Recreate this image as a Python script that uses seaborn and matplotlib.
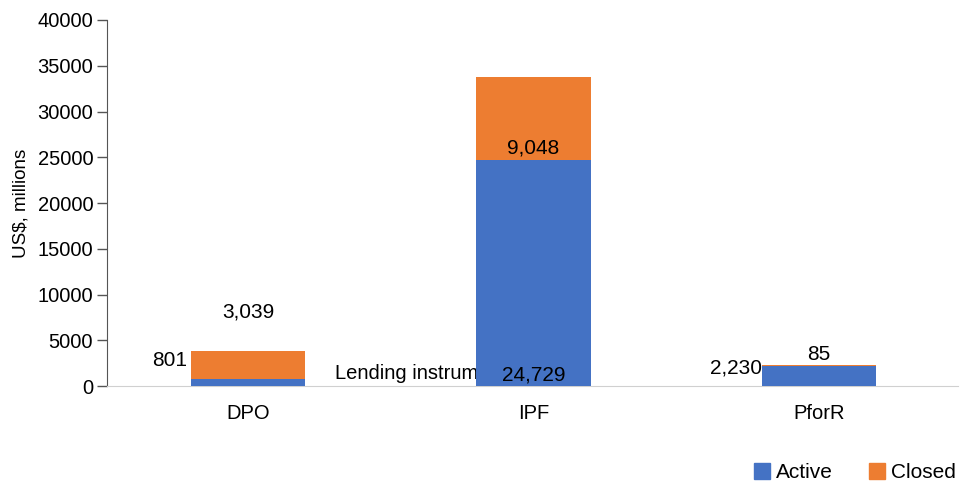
import pandas as pd
import numpy as np
import matplotlib.pyplot as plt
import seaborn as sns
from matplotlib.patches import Patch

# lending instruments and amounts (US$ millions)
instruments = ['DPO', 'IPF', 'PforR']
active = [801, 24729, 2230]
closed = [3039, 9048, 85]

blue = '#4472C4'
orange = '#ED7D31'

df = pd.DataFrame({'instrument': instruments, 'Active': active, 'Closed': closed})
df['total'] = df['Active'] + df['Closed']

sns.set_style('white')
plt.rcParams['font.family'] = ['Liberation Sans', 'DejaVu Sans']
plt.rcParams['text.color'] = 'black'
plt.rcParams['axes.labelcolor'] = 'black'
plt.rcParams['xtick.color'] = 'black'
plt.rcParams['ytick.color'] = 'black'

fig = plt.figure(figsize = (9.6, 4.83), dpi = 100)
ax = fig.add_axes([0.1115, 0.2008, 0.886, 0.7578])

# stacked bars: totals drawn first in orange, active on top in blue
sns.barplot(data = df, x = 'instrument', y = 'total', color = orange, width = 0.4,
            saturation = 1, ax = ax, zorder = 2, linewidth = 0)
sns.barplot(data = df, x = 'instrument', y = 'Active', color = blue, width = 0.4,
            saturation = 1, ax = ax, zorder = 3, linewidth = 0)

ax.set_ylim(0, 40000)
ax.set_xlim(-0.495, 2.487)
ax.set_yticks(np.arange(0, 40001, 5000))
ax.set_ylabel('US$, millions', fontsize = 13.5, labelpad = 6)
ax.set_xlabel('')
ax.tick_params(axis = 'y', labelsize = 14.5, length = 7, width = 1, color = '#555555', left = True, pad = 3)
ax.tick_params(axis = 'x', labelsize = 14.5, length = 0, pad = 13)

for s in ['top', 'right']:
    ax.spines[s].set_visible(False)
ax.spines['left'].set_color('#555555')
ax.spines['bottom'].set_color('#d0d0d0')

# axis title sits inside the plot, partly hidden behind the IPF bar
ax.text(0.305, 1420, 'Lending instrument', fontsize = 14.5, va = 'center', ha = 'left', zorder = 1)

# data labels (placement offsets as in the original)
fmt = lambda v: f'{v:,}'
ax.text(-0.215, 2840, fmt(active[0]), fontsize = 15, ha = 'right', va = 'center', zorder = 4)
ax.text(0, 8090, fmt(closed[0]), fontsize = 15, ha = 'center', va = 'center', zorder = 4)
ax.text(1, 1200, fmt(active[1]), fontsize = 15, ha = 'center', va = 'center', zorder = 4)
ax.text(1, 26010, fmt(closed[1]), fontsize = 15, ha = 'center', va = 'center', zorder = 4)
ax.text(1.8, 1970, fmt(active[2]), fontsize = 15, ha = 'right', va = 'center', zorder = 4)
ax.text(2, 3390, fmt(closed[2]), fontsize = 15, ha = 'center', va = 'center', zorder = 4)

handles = [Patch(color = blue, label = 'Active'), Patch(color = orange, label = 'Closed')]
fig.legend(handles = handles, loc = 'center right', bbox_to_anchor = (0.996, 0.021), ncol = 2,
           frameon = False, fontsize = 15, handlelength = 0.75, handleheight = 0.75,
           handletextpad = 0.3, columnspacing = 1.75, borderpad = 0, borderaxespad = 0)

fig.savefig('out.png', dpi = 100)
